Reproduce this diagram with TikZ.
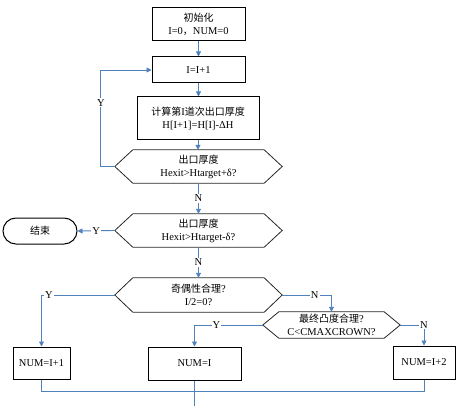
\documentclass[tikz,border=0pt]{standalone}
\usepackage{fontspec}
\setmainfont{Liberation Serif}
\newfontfamily\cjk{Noto Sans CJK SC}
\usetikzlibrary{arrows.meta}
\newcommand{\zh}[1]{{\cjk\fontsize{10}{13}\selectfont #1}}
\definecolor{conblue}{RGB}{79,129,189}
\newcommand{\hexdraw}[2]{\draw[hexline] (#1.west) -- ([xshift=#2pt]#1.north west) -- ([xshift=-#2pt]#1.north east) -- (#1.east) -- ([xshift=-#2pt]#1.south east) -- ([xshift=#2pt]#1.south west) -- cycle;}
\begin{document}
\begin{tikzpicture}[x=1pt,y=-1pt,
  font=\fontsize{10.5}{13}\selectfont,
  box/.style={draw=black, line width=1pt, inner sep=0pt, align=center},
  hexbase/.style={inner sep=0pt, align=center},
  hexline/.style={draw=black!85, line width=0.8pt},
  conn/.style={draw=conblue, line width=0.9pt},
  arr/.style={conn, -{Triangle[length=5pt,width=5pt]}},
  lbl/.style={fill=white, inner sep=1pt, text=black}]
\useasboundingbox (0,0) rectangle (460,406);

\node[box, minimum width=93pt, minimum height=33pt] (init) at (198.5,24.5) {\zh{初始化}\\I=0\zh{，}NUM=0};
\node[box, minimum width=93pt, minimum height=26pt] (inc) at (198.5,70) {I=I+1};
\node[box, minimum width=122pt, minimum height=43pt] (calc) at (198,118.5) {\zh{计算第}I\zh{道次出口厚度}\\H[I+1]=H[I]-ΔH};
\node[hexbase, minimum width=167pt, minimum height=33pt] (hex1) at (198.5,166.5) {\zh{出口厚度}\\Hexit>Htarget+δ?};
\node[hexbase, minimum width=167pt, minimum height=33pt] (hex2) at (198.5,230.5) {\zh{出口厚度}\\Hexit>Htarget-δ?};
\node[hexbase, minimum width=167pt, minimum height=34pt] (hex3) at (198.5,295) {\zh{奇偶性合理}?\\I/2=0?};
\node[hexbase, minimum width=137pt, minimum height=26pt] (hex4) at (331.5,325) {\zh{最终凸度合理}?\\C<CMAXCROWN?};
\node[box, minimum width=74pt, minimum height=26pt, rounded corners=13pt] (end) at (40,231) {\zh{结束}};
\node[box, minimum width=57pt, minimum height=32pt] (n1) at (41.5,363) {NUM=I+1};
\node[box, minimum width=93pt, minimum height=33pt] (n0) at (194.5,363.5) {NUM=I};
\node[box, minimum width=62pt, minimum height=33pt] (n2) at (424,362.5) {NUM=I+2};

\hexdraw{hex1}{18}
\hexdraw{hex2}{18}
\hexdraw{hex3}{18}
\hexdraw{hex4}{16}

\coordinate (join) at (194.5,391);
\coordinate (bot) at (194.5,406);

\draw[arr] (init.south) -- (inc.north);
\draw[arr] (inc.south) -- (inc.south |- calc.north);
\draw[arr] (calc.south) -- (calc.south |- hex1.north);
\draw[arr] (hex1.west) -- ++(-14,0) |- node[lbl,pos=0.33]{Y} (inc.west);
\draw[arr] (hex1.south) -- node[lbl]{N} (hex2.north);
\draw[arr] (hex2.west) -- node[lbl]{Y} (end.east);
\draw[arr] (hex2.south) -- node[lbl]{N} (hex3.north);
\draw[arr] (hex3.west) -| node[lbl,pos=0.45]{Y} (n1.north);
\draw[arr] (hex3.east) -| node[lbl,pos=0.33]{N} (hex4.north);
\draw[arr] (hex4.west) -| node[lbl,pos=0.34]{Y} (n0.north);
\draw[arr] (hex4.east) -| node[lbl,pos=0.5]{N} (n2.north);
\draw[conn] (n1.south) -- (n1.south |- join) -- (n2.south |- join) -- (n2.south);
\draw[conn] (n0.south) -- (bot);
\end{tikzpicture}
\end{document}
